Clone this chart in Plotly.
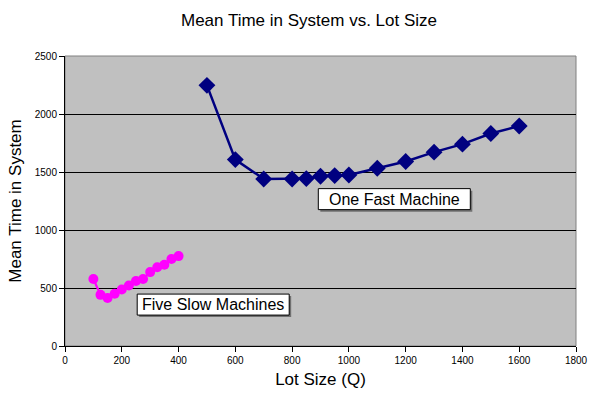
import plotly.graph_objects as go

# Data
fast_q = [500, 600, 700, 800, 850, 900, 950, 1000, 1100, 1200, 1300, 1400, 1500, 1600]
fast_t = [2247, 1607, 1440, 1440, 1443, 1463, 1469, 1474, 1532, 1590, 1671, 1740, 1832, 1896]
slow_q = [100, 125, 150, 175, 200, 225, 250, 275, 300, 325, 350, 375, 400]
slow_t = [577, 441, 414, 451, 487, 522, 560, 578, 637, 679, 700, 750, 775]

title = "Mean Time in System vs. Lot Size"
x_title = "Lot Size (Q)"
y_title = "Mean Time in System"
labels = ["One Fast Machine", "Five Slow Machines"]
label_pos = [(1160, 1266), (522, 357)]

FONT = "Liberation Sans, Arial, sans-serif"

fig = go.Figure()
fig.add_trace(go.Scatter(
    x=fast_q, y=fast_t, mode="lines+markers", name="One Fast Machine",
    line=dict(color="#000080", width=2.5),
    marker=dict(symbol="diamond", size=13, color="#000080"),
))
fig.add_trace(go.Scatter(
    x=slow_q, y=slow_t, mode="lines+markers", name="Five Slow Machines",
    line=dict(color="#FF00FF", width=2.2),
    marker=dict(symbol="circle", size=10, color="#FF00FF"),
))

# Plot-area border (gray top/right)
fig.add_shape(type="rect", xref="paper", yref="paper", x0=0, y0=0, x1=1, y1=1,
              line=dict(color="#808080", width=1), layer="below")

for text, (x, y) in zip(labels, label_pos):
    # shadow box
    fig.add_shape(type="rect", xref="x", yref="y", xsizemode="pixel", ysizemode="pixel",
                  xanchor=x, yanchor=y, x0=-74, x1=78, y0=-12.5, y1=8.5,
                  fillcolor="#707070", line=dict(width=0), layer="above")
    # white box
    fig.add_shape(type="rect", xref="x", yref="y", xsizemode="pixel", ysizemode="pixel",
                  xanchor=x, yanchor=y, x0=-76, x1=76, y0=-10.5, y1=10.5,
                  fillcolor="white", line=dict(color="black", width=1), layer="above")
    fig.add_annotation(x=x, y=y, xref="x", yref="y", text=text, showarrow=False,
                       font=dict(family=FONT, size=16, color="black"))

fig.update_layout(
    width=600, height=400,
    margin=dict(l=65, r=15, t=56, b=54),
    paper_bgcolor="white", plot_bgcolor="#C0C0C0",
    showlegend=False,
    font=dict(family=FONT, color="black"),
    title=dict(text=title, x=309 / 600, xanchor="center", y=1 - 20 / 400, yanchor="middle",
               font=dict(family=FONT, size=17, color="black")),
)
fig.update_xaxes(
    range=[0, 1800], tickvals=list(range(0, 1801, 200)),
    showgrid=False, zeroline=False,
    showline=True, linecolor="black", linewidth=1,
    ticks="outside", ticklen=5, tickcolor="black",
    tickfont=dict(family=FONT, size=10, color="black"),
    title=dict(text=x_title, font=dict(family=FONT, size=17, color="black"), standoff=8),
)
fig.update_yaxes(
    range=[0, 2500], tickvals=list(range(0, 2501, 500)),
    showgrid=True, gridcolor="black", gridwidth=1, zeroline=False,
    showline=True, linecolor="black", linewidth=1,
    ticks="outside", ticklen=5, tickcolor="black",
    tickfont=dict(family=FONT, size=10, color="black"),
    title=dict(text=y_title, font=dict(family=FONT, size=17, color="black"), standoff=8),
)

fig.write_html("out.html")
